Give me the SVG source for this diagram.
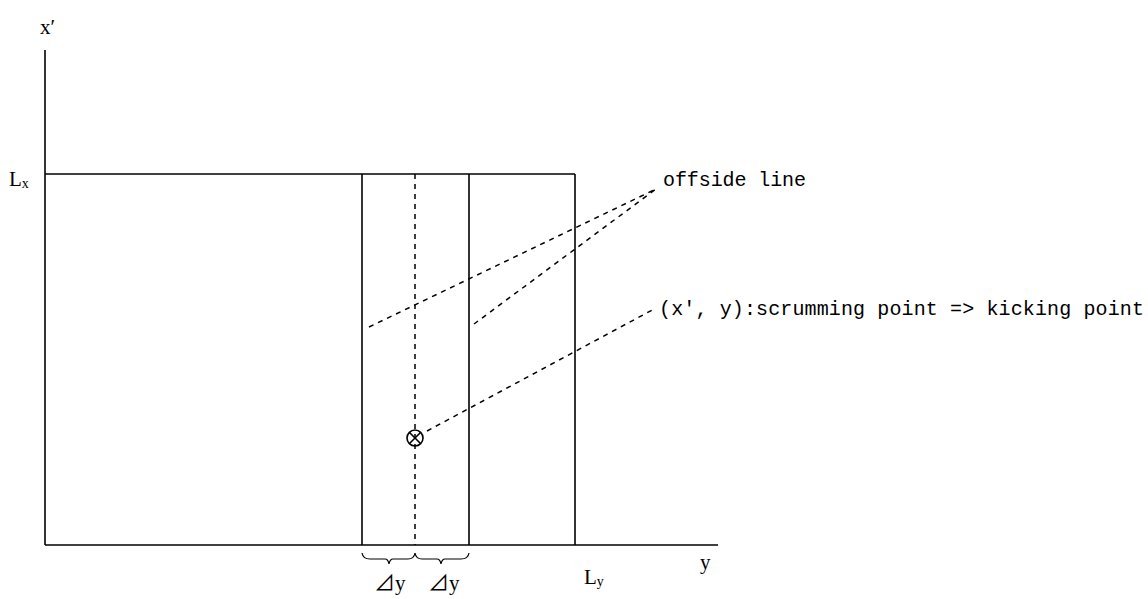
<svg xmlns="http://www.w3.org/2000/svg" width="1148" height="599" viewBox="0 0 1148 599">
<style>
.ln{stroke:#000;stroke-width:1.6;fill:none}
.ds{stroke:#000;stroke-width:1.5;fill:none;stroke-dasharray:5,5}
.br{stroke:#000;stroke-width:1.2;fill:none}
text{font-family:"Liberation Serif","Noto Sans CJK JP",serif;font-size:21px;fill:#000}
.mono{font-family:"Liberation Mono","Noto Sans CJK JP",monospace;font-size:20px}
.sub{font-size:14px}
</style>
<rect width="1148" height="599" fill="#fff"/>
<g id="axes">
<line class="ln" x1="45" y1="50" x2="45" y2="545"/>
<line class="ln" x1="45" y1="545" x2="718" y2="545"/>
<text x="40" y="34">x′</text>
<text x="700" y="569">y</text>
</g>
<g id="field">
<line class="ln" x1="45" y1="174" x2="575" y2="174"/>
<line class="ln" x1="362" y1="174" x2="362" y2="545"/>
<line class="ln" x1="469" y1="174" x2="469" y2="545"/>
<line class="ln" x1="575" y1="174" x2="575" y2="545"/>
<line class="ds" x1="415" y1="174" x2="415" y2="545"/>
<text x="9" y="186">L<tspan class="sub" dy="2">x</tspan></text>
<text x="584" y="584">L<tspan class="sub" dy="2">y</tspan></text>
</g>
<g id="point">
<circle class="ln" cx="415" cy="438" r="8" stroke-width="1.3"/>
<line class="ln" x1="409.5" y1="432.5" x2="420.5" y2="443.5" stroke-width="1.2"/>
<line class="ln" x1="420.5" y1="432.5" x2="409.5" y2="443.5" stroke-width="1.2"/>
</g>
<g id="braces">
<path class="br" d="M362,553 Q363,559 370,559 L385,559 Q388,559 389,564 Q390,559 393,559 L408,559 Q414,559 415,553 Q416,559 422,559 L437,559 Q440,559 441,564 Q442,559 445,559 L461,559 Q468,559 469,553"/>
<text x="374" y="590">⊿y</text>
<text x="428" y="590">⊿y</text>
</g>
<g id="connectors">
<line class="ds" x1="369" y1="327" x2="656" y2="189"/>
<line class="ds" x1="474" y1="324" x2="656" y2="189"/>
<line class="ds" x1="427" y1="431" x2="656" y2="308"/>
</g>
<g id="labels">
<text class="mono" x="663" y="186" textLength="143" lengthAdjust="spacing">offside line</text>
<text class="mono" x="659" y="315" textLength="485" lengthAdjust="spacing">(x′, y):scrumming point =&gt; kicking point</text>
</g>
</svg>
